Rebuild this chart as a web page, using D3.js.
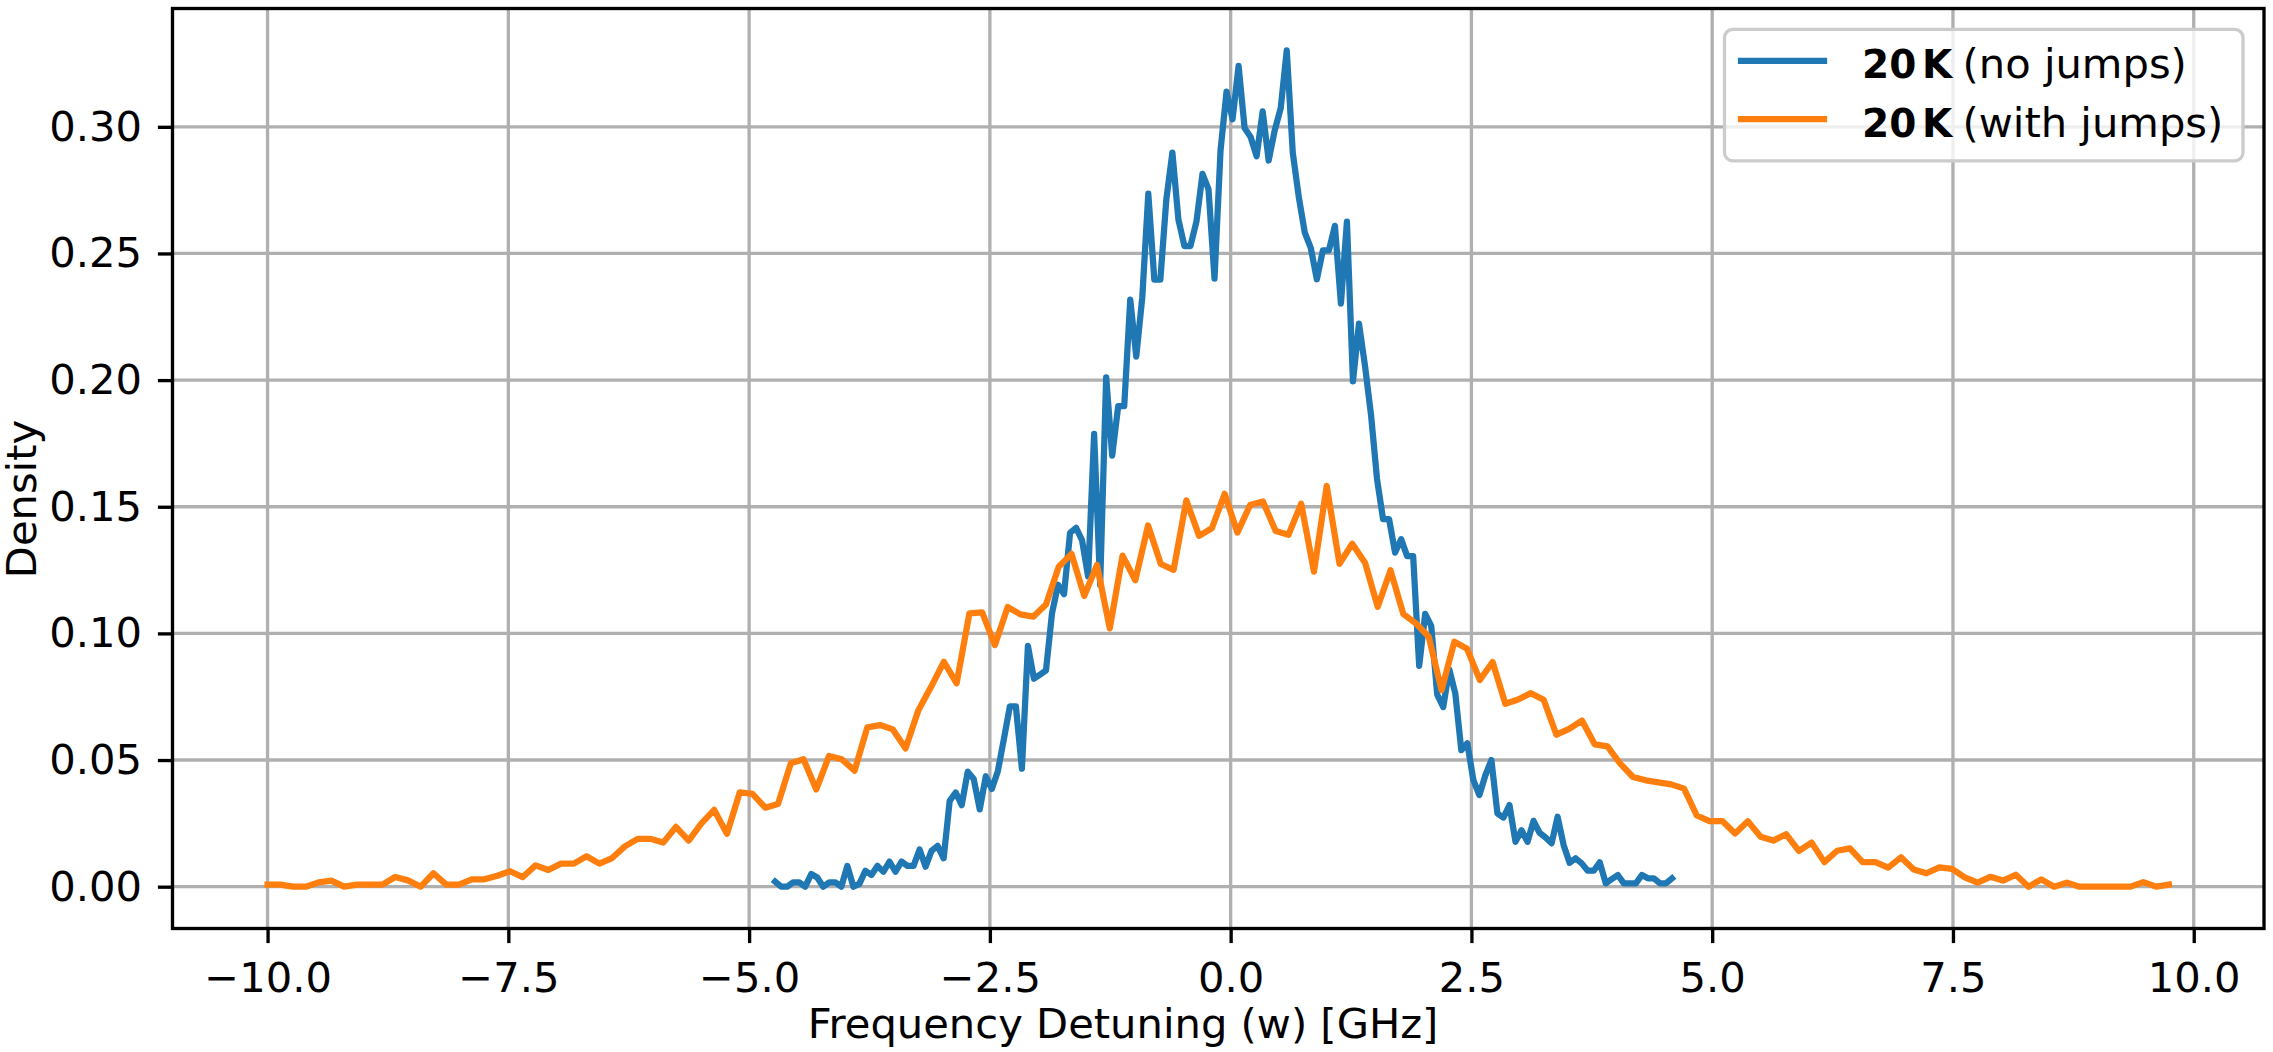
<!DOCTYPE html>
<html>
<head>
<meta charset="utf-8">
<script src="https://cdn.jsdelivr.net/npm/d3@7"></script>
<style>
body { margin: 0; background: #fff; }
svg { display: block; }
text { font-family: 'DejaVu Sans', sans-serif; }
</style>
</head>
<body>
<script>
//Histogram densities, one value per bin (left bin edges).
var noJumpsStart = -4.73, noJumpsBinWidth = 0.0625;
var noJumps = [
	0.0020, 0.0000, 0.0000, 0.0017, 0.0017, 0.0000, 0.0050, 0.0036, 0.0000, 0.0017,
	0.0017, 0.0000, 0.0082, 0.0000, 0.0011, 0.0063, 0.0046, 0.0082, 0.0059, 0.0099,
	0.0059, 0.0099, 0.0082, 0.0082, 0.0147, 0.0079, 0.0142, 0.0161, 0.0112, 0.0339,
	0.0372, 0.0322, 0.0454, 0.0425, 0.0305, 0.0436, 0.0386, 0.0456, 0.0582, 0.0712,
	0.0712, 0.0466, 0.0951, 0.0821, 0.0837, 0.0854, 0.1079, 0.1192, 0.1155, 0.1397,
	0.1417, 0.1367, 0.1225, 0.1788, 0.1192, 0.2011, 0.1702, 0.1897, 0.1897, 0.2318,
	0.2093, 0.2327, 0.2736, 0.2397, 0.2397, 0.2714, 0.2898, 0.2634, 0.2529, 0.2529,
	0.2626, 0.2814, 0.2754, 0.2401, 0.2907, 0.3139, 0.3030, 0.3241, 0.2995, 0.2960,
	0.2884, 0.3061, 0.2867, 0.2986, 0.3074, 0.3302, 0.2898, 0.2723, 0.2582, 0.2521,
	0.2398, 0.2512, 0.2512, 0.2609, 0.2302, 0.2626, 0.1995, 0.2223, 0.2056, 0.1863,
	0.1609, 0.1451, 0.1451, 0.1319, 0.1372, 0.1305, 0.1305, 0.0872, 0.1077, 0.1030,
	0.0758, 0.0709, 0.0858, 0.0763, 0.0539, 0.0566, 0.0421, 0.0362, 0.0440, 0.0500,
	0.0289, 0.0273, 0.0322, 0.0177, 0.0223, 0.0177, 0.0260, 0.0213, 0.0194, 0.0171,
	0.0276, 0.0164, 0.0094, 0.0112, 0.0092, 0.0063, 0.0063, 0.0096, 0.0013, 0.0030,
	0.0046, 0.0013, 0.0013, 0.0013, 0.0046, 0.0033, 0.0033, 0.0013, 0.0013, 0.0033
];
var withJumpsStart = -10, withJumpsBinWidth = 0.1325;
var withJumps = [
	0.0008, 0.0008, 0.0000, 0.0000, 0.0017, 0.0024, 0.0000, 0.0008, 0.0008, 0.0008,
	0.0038, 0.0025, 0.0000, 0.0053, 0.0008, 0.0008, 0.0029, 0.0029, 0.0043, 0.0061,
	0.0038, 0.0084, 0.0066, 0.0091, 0.0091, 0.0120, 0.0091, 0.0113, 0.0159, 0.0189,
	0.0189, 0.0174, 0.0236, 0.0182, 0.0250, 0.0303, 0.0209, 0.0372, 0.0366, 0.0312,
	0.0326, 0.0487, 0.0503, 0.0384, 0.0516, 0.0503, 0.0458, 0.0629, 0.0638, 0.0621,
	0.0546, 0.0697, 0.0789, 0.0888, 0.0803, 0.1079, 0.1083, 0.0954, 0.1104, 0.1075,
	0.1066, 0.1114, 0.1263, 0.1314, 0.1148, 0.1270, 0.1020, 0.1307, 0.1210, 0.1426,
	0.1274, 0.1251, 0.1525, 0.1385, 0.1415, 0.1551, 0.1398, 0.1507, 0.1521, 0.1404,
	0.1389, 0.1512, 0.1244, 0.1582, 0.1275, 0.1354, 0.1279, 0.1105, 0.1249, 0.1077,
	0.1039, 0.0986, 0.0776, 0.0967, 0.0939, 0.0816, 0.0887, 0.0722, 0.0739, 0.0764,
	0.0738, 0.0600, 0.0623, 0.0656, 0.0562, 0.0554, 0.0486, 0.0433, 0.0420, 0.0412,
	0.0404, 0.0387, 0.0281, 0.0259, 0.0259, 0.0210, 0.0258, 0.0197, 0.0182, 0.0207,
	0.0141, 0.0174, 0.0097, 0.0142, 0.0151, 0.0097, 0.0097, 0.0075, 0.0116, 0.0068,
	0.0053, 0.0076, 0.0070, 0.0037, 0.0016, 0.0039, 0.0024, 0.0047, 0.0000, 0.0029,
	0.0000, 0.0016, 0.0000, 0.0000, 0.0000, 0.0000, 0.0000, 0.0018, 0.0000, 0.0008
];
var xTicks = [-10, -7.5, -5, -2.5, 0, 2.5, 5, 7.5, 10];
var yTicks = [0, 0.05, 0.10, 0.15, 0.20, 0.25, 0.30];
var seriesBold = ['20 K', '20 K'];
var seriesText = ['(no jumps)', '(with jumps)'];
var seriesColors = ['#1f77b4', '#ff7f0e'];

var width = 2273, height = 1052;
//Sizes follow a 300 dpi render: 10pt text, 1.5pt lines, 0.8pt spines and grid.
var fontSize = 41.67, lineWidth = 6.25, thin = 3.33;
var margin = {top: 8.5, right: 9, bottom: 123.5, left: 172.5};
var innerWidth = width - margin.left - margin.right;
var innerHeight = height - margin.top - margin.bottom;

//Build point lists for both series.
function toPoints(values, start, binWidth) {
	return values.map(function(d, i) { return {x: start + i * binWidth, y: d}; });
}
var series = [toPoints(noJumps, noJumpsStart, noJumpsBinWidth),
	toPoints(withJumps, withJumpsStart, withJumpsBinWidth)];
var allPoints = series[0].concat(series[1]);

//Domains padded by 5% of the data range, as in the original.
var xExt = d3.extent(allPoints, function(d) { return d.x; });
var yExt = d3.extent(allPoints, function(d) { return d.y; });
var xPad = 0.05 * (xExt[1] - xExt[0]), yPad = 0.05 * (yExt[1] - yExt[0]);
var xScale = d3.scaleLinear().domain([xExt[0] - xPad, xExt[1] + xPad]).range([0, innerWidth]);
var yScale = d3.scaleLinear().domain([yExt[0] - yPad, yExt[1] + yPad]).range([innerHeight, 0]);

var svg = d3.select('body').append('svg')
	.attr('width', width)
	.attr('height', height);
svg.append('rect').attr('width', width).attr('height', height).style('fill', '#fff');

var inner = svg.append('g')
	.attr('transform', 'translate(' + margin.left + ',' + margin.top + ')');

svg.append('defs').append('clipPath').attr('id', 'plotclip')
	.append('rect').attr('width', innerWidth).attr('height', innerHeight);

//Grid lines.
inner.append('g').selectAll('line.vgrid').data(xTicks).enter().append('line')
	.attr('x1', function(d) { return xScale(d); })
	.attr('x2', function(d) { return xScale(d); })
	.attr('y1', 0).attr('y2', innerHeight)
	.style('stroke', '#b0b0b0').style('stroke-width', thin);
inner.append('g').selectAll('line.hgrid').data(yTicks).enter().append('line')
	.attr('y1', function(d) { return yScale(d); })
	.attr('y2', function(d) { return yScale(d); })
	.attr('x1', 0).attr('x2', innerWidth)
	.style('stroke', '#b0b0b0').style('stroke-width', thin);

//Series lines.
var line = d3.line()
	.x(function(d) { return xScale(d.x); })
	.y(function(d) { return yScale(d.y); });
inner.append('g').attr('clip-path', 'url(#plotclip)')
	.selectAll('path').data(series).enter().append('path')
	.attr('d', line)
	.style('fill', 'none')
	.style('stroke', function(d, i) { return seriesColors[i]; })
	.style('stroke-width', lineWidth)
	.style('stroke-linejoin', 'round')
	.style('stroke-linecap', 'square');

//Axes; the domain path is replaced by a frame below.
var xAxis = inner.append('g')
	.attr('transform', 'translate(0,' + innerHeight + ')')
	.call(d3.axisBottom(xScale).tickValues(xTicks).tickFormat(d3.format('.1f'))
		.tickSizeInner(14.6).tickSizeOuter(0).tickPadding(19));
var yAxis = inner.append('g')
	.call(d3.axisLeft(yScale).tickValues(yTicks).tickFormat(d3.format('.2f'))
		.tickSizeInner(14.6).tickSizeOuter(0).tickPadding(16));
[xAxis, yAxis].forEach(function(ax) {
	ax.select('.domain').remove();
	ax.attr('font-size', fontSize).attr('font-family', "'DejaVu Sans', sans-serif");
	ax.selectAll('line').style('stroke', '#000').style('stroke-width', thin);
	ax.selectAll('text').style('fill', '#000');
});

inner.append('rect')
	.attr('width', innerWidth).attr('height', innerHeight)
	.style('fill', 'none').style('stroke', '#000').style('stroke-width', thin);

//Axis titles.
svg.append('text')
	.attr('x', 1123).attr('y', 1038)
	.attr('text-anchor', 'middle')
	.attr('font-size', fontSize)
	.text('Frequency Detuning (w) [GHz]');
svg.append('text')
	.attr('transform', 'translate(36,499) rotate(-90)')
	.attr('text-anchor', 'middle')
	.attr('font-size', fontSize)
	.text('Density');

//Legend, upper right.
var legend = svg.append('g');
legend.append('rect')
	.attr('x', 1724.5).attr('y', 29.3)
	.attr('width', 518.5).attr('height', 131.5)
	.attr('rx', 8.3).attr('ry', 8.3)
	.style('fill', '#fff').style('fill-opacity', 0.8)
	.style('stroke', '#cccccc').style('stroke-width', 3.3);
var rows = legend.selectAll('g.row').data(seriesText).enter().append('g')
	.attr('transform', function(d, i) { return 'translate(0,' + (78.3 + i * 58.4) + ')'; });
rows.append('line')
	.attr('x1', 1741).attr('x2', 1824)
	.attr('y1', -17.5).attr('y2', -17.5)
	.style('stroke', function(d, i) { return seriesColors[i]; })
	.style('stroke-width', lineWidth)
	.style('stroke-linecap', 'square');
//Bold temperature part, then the plain description.
rows.append('text')
	.attr('x', 1862)
	.attr('font-size', 39)
	.attr('font-weight', 'bold')
	.text(function(d, i) { return seriesBold[i].split(' ')[0]; });
rows.append('text')
	.attr('x', 1922)
	.attr('font-size', 39)
	.attr('font-weight', 'bold')
	.text(function(d, i) { return seriesBold[i].split(' ')[1]; });
rows.append('text')
	.attr('x', 1962.5)
	.attr('font-size', fontSize)
	.text(function(d) { return d; });
</script>
</body>
</html>
